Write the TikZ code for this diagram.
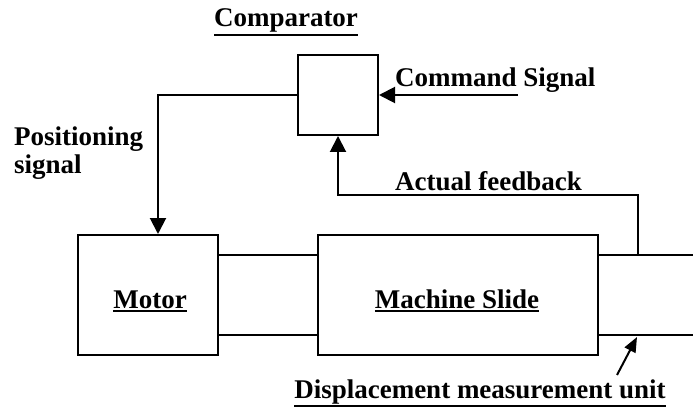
\documentclass[tikz,border=0pt]{standalone}
\usepackage{fontspec}
\setmainfont{Liberation Serif}
\usetikzlibrary{arrows.meta}
% underline with a heavier rule, set just below the text's depth
\newcommand\heavyul[1]{\vtop{\hbox{#1}\kern1.5pt\hrule height 2.2pt}}
\begin{document}
\begin{tikzpicture}[x=1pt,y=-1pt,
  wire/.style={line width=2pt},
  flow/.style={wire,-{Triangle[length=16pt,width=16pt]}},
  block/.style={draw,line width=2pt,inner sep=0pt},
  lbl/.style={font=\fontsize{27}{28}\selectfont\bfseries,inner sep=0pt}]
\useasboundingbox (0,0) rectangle (693,414);

% blocks
\node[block,minimum width=80pt,minimum height=80pt] (cmp) at (338,95) {};
\node[block,minimum width=140pt,minimum height=120pt] (motor) at (148,295) {};
\node[block,minimum width=280pt,minimum height=120pt] (slide) at (458,295) {};

% labels
\node[lbl,anchor=base] (tcmp) at (286,27) {\heavyul{Comparator}};
\node[lbl,anchor=base west] (tcmd) at (395,87) {Command Signal};
\node[lbl,anchor=base west] (tfb) at (395,190) {Actual feedback};
\node[lbl,anchor=base] (tmotor) at (150,308) {\heavyul{Motor}};
\node[lbl,anchor=base] (tslide) at (457,308) {\heavyul{Machine Slide}};
\node[lbl,anchor=base west,align=left] (tpos) at (14,174) {Positioning\\signal};
\node[lbl,anchor=base] (tdmu) at (480,398) {\heavyul{Displacement measurement unit}};

% free ends
\coordinate (cmdin) at (518,95);
\coordinate (edgeTop) at (693,255);
\coordinate (edgeBot) at (693,335);
\coordinate (tap) at (638,255);
\coordinate (ptr) at (617,375);
\coordinate (ptrtip) at (637,337);

% command input
\draw[flow] (cmdin) -- (cmp.east);
% comparator to motor
\draw[flow] (cmp.west) -| (motor.north -| 158,0);
% motor to slide coupling
\draw[wire] (motor.east |- 0,255) -- (slide.west |- 0,255);
\draw[wire] (motor.east |- 0,335) -- (slide.west |- 0,335);
% measurement unit
\draw[wire] (slide.east |- 0,255) -- (edgeTop);
\draw[wire] (slide.east |- 0,335) -- (edgeBot);
% feedback path
\draw[flow] (tap) -- (638,195) -| (cmp.south -| 338,0);
% pointer to measurement unit
\draw[wire,-{Triangle[length=15pt,width=12pt]}] (ptr) -- (ptrtip);
\end{tikzpicture}
\end{document}
